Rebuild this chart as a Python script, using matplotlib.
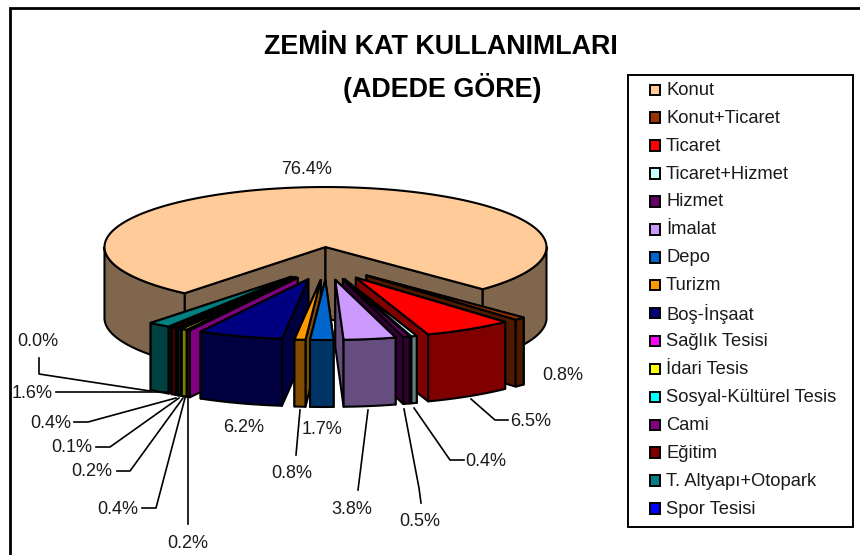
import numpy as np
import matplotlib
matplotlib.use("Agg")
import matplotlib.pyplot as plt
from matplotlib.patches import Polygon, Rectangle

plt.rcParams["font.family"] = ["Liberation Sans", "DejaVu Sans"]

categorias = ["Konut", "Konut+Ticaret", "Ticaret", "Ticaret+Hizmet", "Hizmet", "İmalat",
              "Depo", "Turizm", "Boş-İnşaat", "Sağlık Tesisi", "İdari Tesis",
              "Sosyal-Kültürel Tesis", "Cami", "Eğitim", "T. Altyapı+Otopark", "Spor Tesisi"]
valores = [76.4, 0.8, 6.5, 0.4, 0.5, 3.8, 1.7, 0.8, 6.2, 0.2, 0.4, 0.2, 0.1, 0.4, 1.6, 0.0]
colores = ["#FFCC99", "#993300", "#FF0000", "#CCFFFF", "#660066", "#CC99FF", "#0066CC", "#FF9900",
           "#000080", "#FF00FF", "#FFFF00", "#00FFFF", "#800080", "#800000", "#008080", "#0000FF"]

# geometria del pastel, en pixeles de la imagen
CX, CY = 326.2, 263.5
RX, RY = 221, 60
EX, EY = 58, 16.5
DX_KONUT = 2.2
PROF_KONUT, PROF = 71, 67
INICIO = 320.4  # angulo desde abajo donde arranca Konut, decrece en sentido horario

LW = 1.5


def punto(x0, y0, phi):
    return x0 + RX * np.sin(phi), y0 + RY * np.cos(phi)


def oscuro(color):
    return tuple(c * 0.5 for c in matplotlib.colors.to_rgb(color))


fig = plt.figure(figsize=(8.6, 5.55), dpi=100)
ax = fig.add_axes([0, 0, 1, 1])
ax.set_xlim(0, 860)
ax.set_ylim(555, 0)
ax.axis("off")

# marco del grafico (solo arriba y a la izquierda se ven)
ax.plot([9.5, 9.5, 860], [555, 8, 8], color="black", lw=2.0, solid_joinstyle="miter")

# angulos de cada porcion
total = sum(valores)
phi_fin = np.radians(INICIO) - np.cumsum(valores) / total * 2 * np.pi
phi_ini = np.concatenate([[np.radians(INICIO)], phi_fin[:-1]])
porciones = [(i, phi_fin[i], phi_ini[i]) for i in range(len(valores))]

# de atras hacia adelante
porciones.sort(key=lambda p: -abs((p[1] + p[2]) / 2))

for i, a, b in porciones:
    if valores[i] == 0:
        continue
    m = (a + b) / 2
    x0 = CX + EX * np.sin(m)
    y0 = CY + EY * np.cos(m)
    if i == 0:
        x0 += DX_KONUT
    prof = PROF_KONUT if i == 0 else PROF
    c_top = colores[i]
    c_lado = oscuro(colores[i])

    # paredes radiales, primero la mas lejana
    extremos = sorted([a, b], key=lambda v: -abs(v))
    for e in extremos:
        px, py = punto(x0, y0, e)
        ax.add_patch(Polygon([(x0, y0), (px, py), (px, py + prof), (x0, y0 + prof)],
                             facecolor=c_lado, edgecolor="black", lw=LW, joinstyle="round"))

    # pared curva, solo lo que queda al frente
    for k in range(-1, 2):
        lo = max(a, k * 2 * np.pi - np.pi / 2)
        hi = min(b, k * 2 * np.pi + np.pi / 2)
        if hi <= lo:
            continue
        t = np.linspace(lo, hi, 120)
        px, py = punto(x0, y0, t)
        xs = np.concatenate([px, px[::-1]])
        ys = np.concatenate([py, py[::-1] + prof])
        ax.add_patch(Polygon(np.column_stack([xs, ys]), facecolor=c_lado,
                             edgecolor="black", lw=LW, joinstyle="round"))

    # cara superior
    t = np.linspace(a, b, 240)
    px, py = punto(x0, y0, t)
    ax.add_patch(Polygon(np.column_stack([np.r_[x0, px], np.r_[y0, py]]), facecolor=c_top,
                         edgecolor="black", lw=LW, joinstyle="round"))

# etiquetas de porcentaje (mismo orden que valores) y lineas guia
pos_etiquetas = [(307, 169), (563, 376), (531, 422), (486, 461), (420, 522), (352, 509),
                 (322, 429), (292, 473), (244, 428), (188, 543), (118, 509), (92, 472),
                 (72, 448), (51, 423), (32, 393), (38, 341)]
guias = [None, None, [(508, 420), (495, 420), (471, 399)], [(464, 460), (450, 460), (414, 408)],
         [(421, 503), (419, 488), (404, 409)], [(358, 490), (368, 410)], None,
         [(296, 455), (300, 410)], None, [(188, 524), (188, 398)],
         [(142, 508), (156, 508), (185, 398)], [(117, 471), (130, 471), (183, 398)],
         [(96, 447), (110, 447), (179, 398)], [(74, 422), (88, 422), (176, 398)],
         [(56, 392), (168, 392)], [(39, 358), (39, 374), (150, 391)]]

for v, (tx, ty), g in zip(valores, pos_etiquetas, guias):
    ax.text(tx, ty, f"{v:.1f}%", fontsize=13, ha="center", va="center", color="#1a1a1a")
    if g is not None:
        ax.plot([p[0] for p in g], [p[1] for p in g], color="black", lw=1.2)

ax.text(441, 47.5, "ZEMİN KAT KULLANIMLARI", fontsize=19.4, fontweight="bold", ha="center", va="center")
ax.text(442, 88, "(ADEDE GÖRE)", fontsize=19.4, fontweight="bold", ha="center", va="center")

# leyenda
ax.add_patch(Rectangle((627.5, 74.5), 225.5, 452, facecolor="white", edgecolor="black", lw=1.4))
for i, (nombre, c) in enumerate(zip(categorias, colores)):
    y = 89.5 + 27.92 * i
    ax.add_patch(Rectangle((649.5, y - 5), 10.5, 10.5, facecolor=c, edgecolor="black", lw=1.4))
    ax.text(666, y + 0.8, nombre, fontsize=13.2, ha="left", va="center", color="#1a1a1a")

fig.savefig("out.png", dpi=100)
